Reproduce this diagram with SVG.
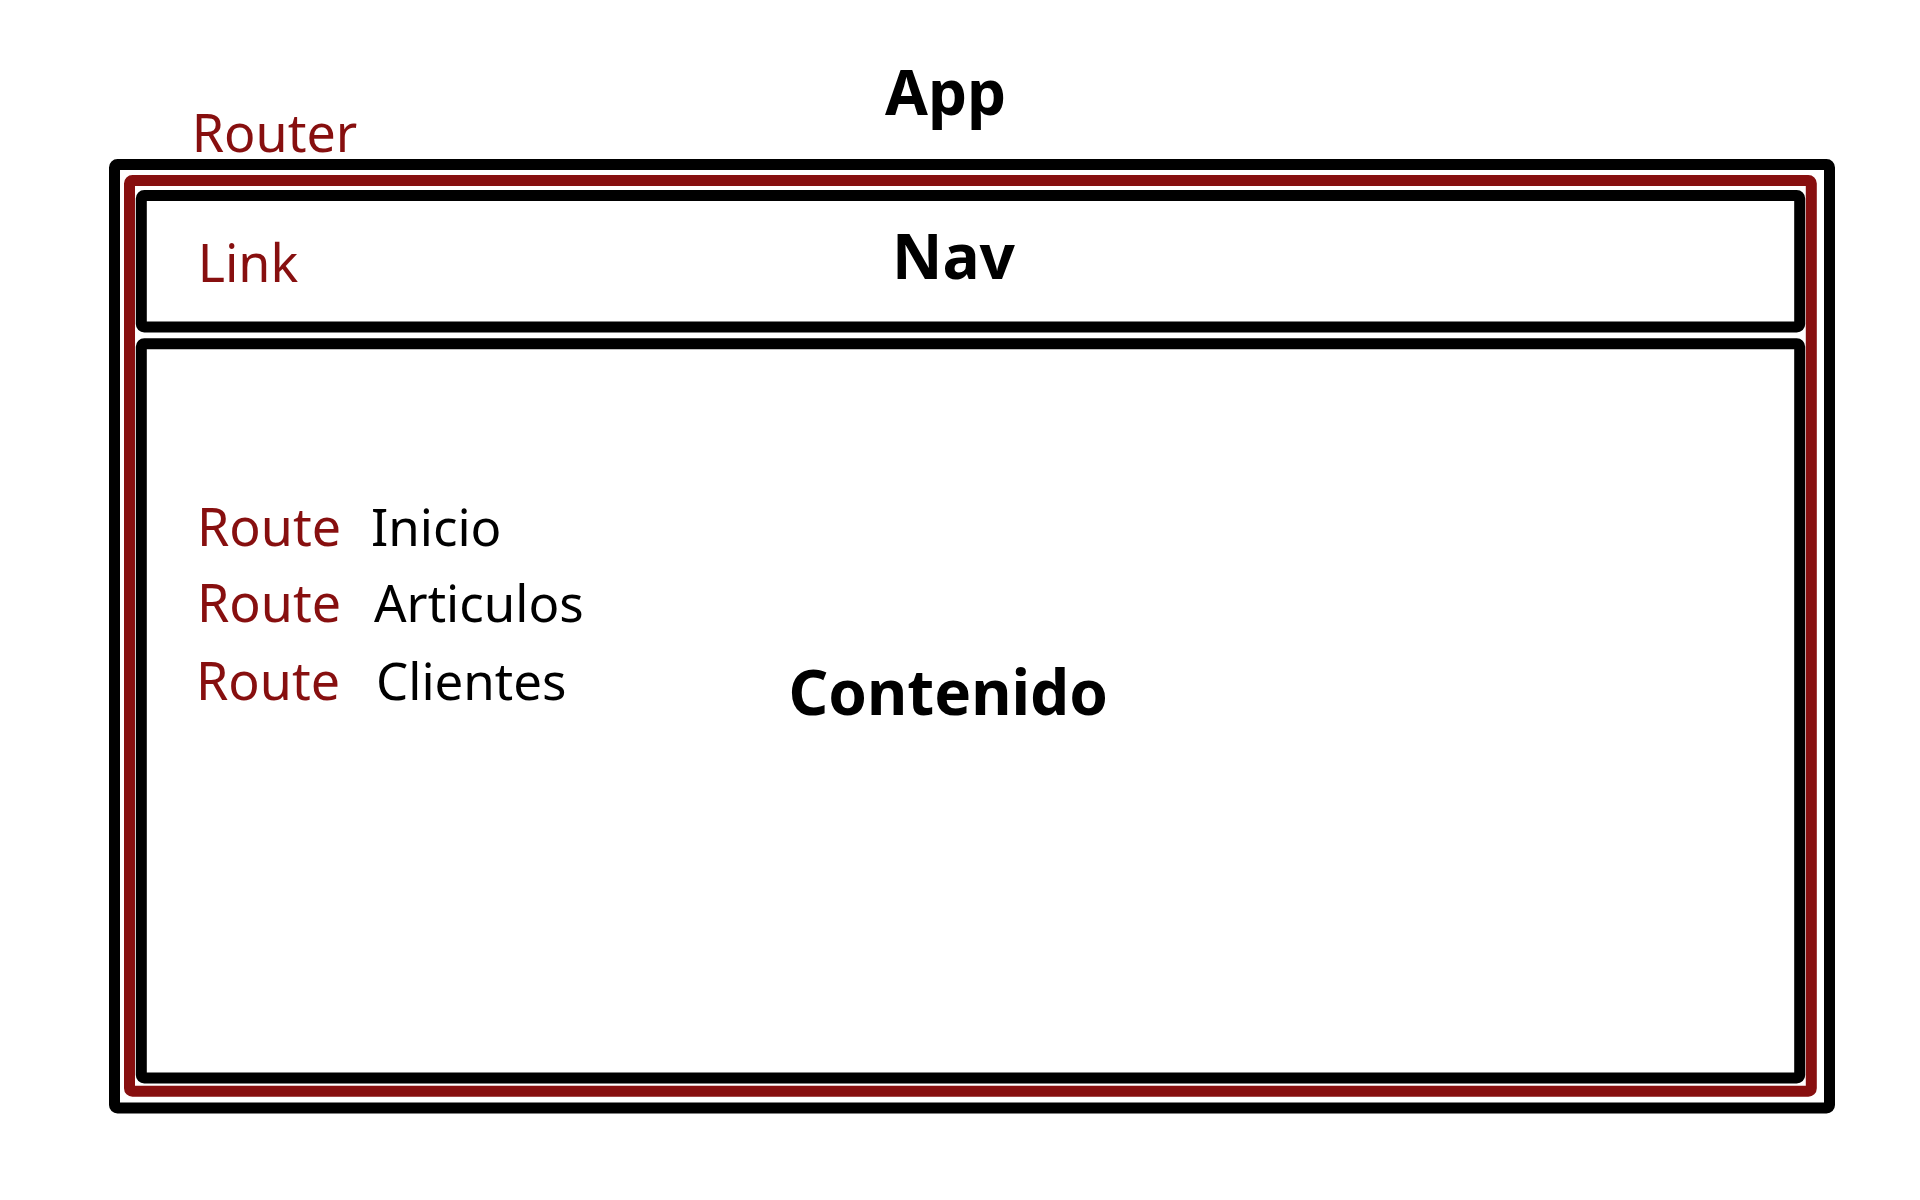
<svg xmlns="http://www.w3.org/2000/svg" width="1920" height="1200" viewBox="0 0 1920 1200">
<style>
.box{fill:none;stroke:#000;stroke-width:11}
.red{fill:none;stroke:#870f0f;stroke-width:11}
.lbl{font-family:"Noto Sans","Open Sans",sans-serif;font-size:52px;fill:#870f0f}
.txt{font-family:"Noto Sans","Open Sans",sans-serif;font-size:51px;fill:#000}
.ttl{font-family:"Noto Sans","Open Sans",sans-serif;font-size:62px;font-weight:bold;fill:#000}
</style>
<rect width="1920" height="1200" fill="#fff"/>
<g id="app">
<rect class="box" x="114.5" y="164.5" width="1715" height="943.5" rx="3"/>
<text class="ttl" x="885" y="115">App</text>
</g>
<g id="router">
<rect class="red" x="129.5" y="180.5" width="1681.8" height="910.8" rx="3"/>
<text class="lbl" x="191.7" y="151.7">Router</text>
</g>
<g id="nav">
<rect class="box" x="141.3" y="195.5" width="1658.4" height="131.5" rx="3"/>
<text class="ttl" x="892" y="279">Nav</text>
<text class="lbl" x="197.7" y="281.7">Link</text>
</g>
<g id="contenido">
<rect class="box" x="141.3" y="343.7" width="1658.4" height="734.3" rx="3"/>
<text class="ttl" x="788.5" y="715">Contenido</text>
<text class="lbl" x="197" y="545.7">Route</text>
<text class="txt" x="371" y="545.7">Inicio</text>
<text class="lbl" x="197" y="621.7">Route</text>
<text class="txt" x="374" y="621.7">Articulos</text>
<text class="lbl" x="196" y="700">Route</text>
<text class="txt" x="376" y="700">Clientes</text>
</g>
<g id="connectors"/>
</svg>
